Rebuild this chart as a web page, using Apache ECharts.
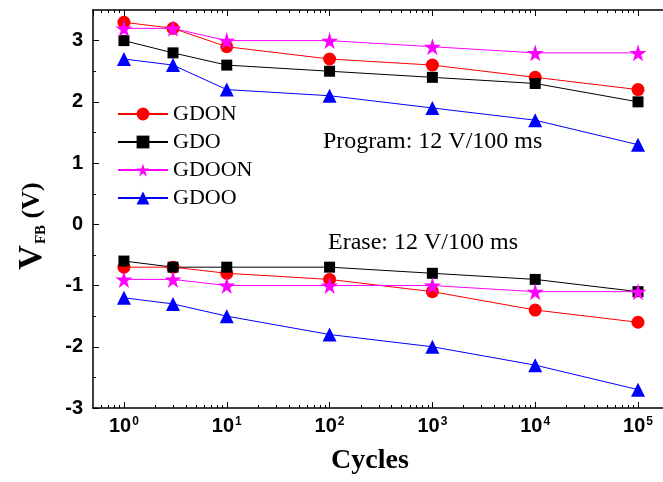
<!DOCTYPE html>
<html>
<head>
<meta charset="utf-8" />
<style>
  html, body { margin: 0; padding: 0; background: #fff; }
  #main { width: 663px; height: 482px; }
</style>
</head>
<body>
<div id="main"></div>
<script src="https://cdn.jsdelivr.net/npm/echarts@6/dist/echarts.min.js"></script>
<script>
// cycles (x, log scale)
var cycles = [1, 3, 10, 100, 1000, 10000, 100000];

// program state V_FB (V)
var gdonProgram  = [3.3, 3.2, 2.9, 2.7, 2.6, 2.4, 2.2];
var gdoProgram   = [3.0, 2.8, 2.6, 2.5, 2.4, 2.3, 2.0];
var gdoonProgram = [3.2, 3.2, 3.0, 3.0, 2.9, 2.8, 2.8];
var gdooProgram  = [2.7, 2.6, 2.2, 2.1, 1.9, 1.7, 1.3];

// erase state V_FB (V)
var gdonErase  = [-0.7, -0.7, -0.8, -0.9, -1.1, -1.4, -1.6];
var gdoErase   = [-0.6, -0.7, -0.7, -0.7, -0.8, -0.9, -1.1];
var gdoonErase = [-0.9, -0.9, -1.0, -1.0, -1.0, -1.1, -1.1];
var gdooErase  = [-1.2, -1.3, -1.5, -1.8, -2.0, -2.3, -2.7];

var seriesNames = ['GDON', 'GDO', 'GDOON', 'GDOO'];
var yMinorTicks = [-2.5, -1.5, -0.5, 0.5, 1.5, 2.5];
var xMinorMantissas = [2, 3, 4, 5, 6, 7, 8, 9];
var xMinorDecades = [1, 10, 100, 1000, 10000];
var xMinorBelowOne = [0.6, 0.7, 0.8, 0.9];

var xMinorTicks = xMinorBelowOne.slice();
xMinorDecades.forEach(function (d) {
  xMinorMantissas.forEach(function (m) { xMinorTicks.push(m * d); });
});

var SERIF = 'Liberation Serif, Times New Roman, serif';
var SANS = 'Liberation Sans, Arial, sans-serif';
var STAR = 'path://M50,0 L61,35 L98,35 L68,57 L79,91 L50,70 L21,91 L32,57 L2,35 L39,35 Z';

var styles = {
  GDON:  { color: '#ff0000', symbol: 'circle', size: 13 },
  GDO:   { color: '#000000', symbol: 'rect', size: 11 },
  GDOON: { color: '#ff00ff', symbol: STAR, size: 17 },
  GDOO:  { color: '#0000ff', symbol: 'triangle', size: 14 }
};
var values = {
  GDON:  [gdonProgram, gdonErase],
  GDO:   [gdoProgram, gdoErase],
  GDOON: [gdoonProgram, gdoonErase],
  GDOO:  [gdooProgram, gdooErase]
};

function pairs(ys) {
  return cycles.map(function (c, i) { return [c, ys[i]]; });
}

var series = [];
seriesNames.forEach(function (name) {
  var s = styles[name];
  values[name].forEach(function (ys) {
    series.push({
      name: name,
      type: 'line',
      data: pairs(ys),
      symbol: s.symbol,
      symbolSize: s.size,
      showAllSymbol: true,
      lineStyle: { color: s.color, width: 1 },
      itemStyle: { color: s.color },
      emphasis: { disabled: true }
    });
  });
});

// minor ticks on the x axis (bottom + top)
series.push({
  type: 'custom',
  silent: true,
  z: 5,
  data: xMinorTicks.map(function (v) { return [v, 0]; }),
  renderItem: function (params, api) {
    var p = api.coord([api.value(0), 0]);
    var cs = params.coordSys;
    var x = Math.round(p[0]) + 0.5;
    var b = cs.y + cs.height;
    return {
      type: 'group',
      children: [
        { type: 'line', shape: { x1: x, y1: b, x2: x, y2: b - 3 }, style: { stroke: '#000', lineWidth: 1 } },
        { type: 'line', shape: { x1: x, y1: cs.y, x2: x, y2: cs.y + 3 }, style: { stroke: '#000', lineWidth: 1 } }
      ]
    };
  }
});

// minor ticks on the y axis
series.push({
  type: 'custom',
  silent: true,
  z: 5,
  data: yMinorTicks.map(function (v) { return [1, v]; }),
  renderItem: function (params, api) {
    var p = api.coord([1, api.value(1)]);
    var cs = params.coordSys;
    var y = Math.round(p[1]) + 0.5;
    return {
      type: 'line',
      shape: { x1: cs.x, y1: y, x2: cs.x + 3, y2: y },
      style: { stroke: '#000', lineWidth: 1 }
    };
  }
});

function powerLabel(v) {
  var e = Math.log10(v);
  if (Math.abs(e - Math.round(e)) > 1e-6) return '';
  return '{b|10}{s|' + Math.round(e) + '}';
}

var chart = echarts.init(document.getElementById('main'));
chart.setOption({
  animation: false,
  backgroundColor: '#fff',
  grid: { left: 92, right: 0, top: 10, bottom: 74 },
  legend: {
    data: seriesNames,
    orient: 'vertical',
    left: 112,
    top: 98,
    itemWidth: 50,
    itemHeight: 16,
    itemGap: 6,
    textStyle: { fontFamily: SERIF, fontSize: 22, color: '#000' }
  },
  xAxis: [
    {
      type: 'log',
      logBase: 10,
      min: 0.5,
      max: 175000,
      name: 'Cycles',
      nameLocation: 'middle',
      nameGap: 39,
      nameTextStyle: { fontFamily: SERIF, fontSize: 28, fontWeight: 'bold', color: '#000', padding: [0, 16, 0, 0] },
      axisLine: { onZero: false, lineStyle: { color: '#000', width: 1.5 } },
      axisTick: { inside: true, length: 6, lineStyle: { color: '#000' } },
      splitLine: { show: false },
      axisLabel: {
        margin: 8,
        showMinLabel: false,
        showMaxLabel: false,
        formatter: powerLabel,
        rich: {
          b: { fontFamily: SANS, fontSize: 20, fontWeight: 'bold', color: '#000' },
          s: { fontFamily: SANS, fontSize: 12, fontWeight: 'bold', color: '#000', verticalAlign: 'top', padding: [0, 0, 8, 1] }
        }
      }
    },
    {
      type: 'log',
      logBase: 10,
      min: 0.5,
      max: 175000,
      position: 'top',
      axisLine: { onZero: false, lineStyle: { color: '#000', width: 1.5 } },
      axisTick: { inside: true, length: 6, lineStyle: { color: '#000' } },
      axisLabel: { show: false },
      splitLine: { show: false }
    }
  ],
  yAxis: {
    type: 'value',
    min: -3,
    max: 3.5,
    interval: 1,
    name: '{v|V}{s|FB}{p| (V)}',
    nameLocation: 'middle',
    nameRotate: 90,
    nameGap: 44,
    nameTextStyle: {
      padding: [0, 34, 0, 0],
      rich: {
        v: { fontFamily: SERIF, fontSize: 34, fontWeight: 'bold', color: '#000', verticalAlign: 'top', lineHeight: 34 },
        s: { fontFamily: SERIF, fontSize: 15, fontWeight: 'bold', color: '#000', verticalAlign: 'bottom', lineHeight: 15, padding: [26, 0, 0, 1] },
        p: { fontFamily: SERIF, fontSize: 26, fontWeight: 'bold', color: '#000', verticalAlign: 'top', lineHeight: 34, padding: [4, 0, 0, 0] }
      }
    },
    axisLine: { show: true, onZero: false, lineStyle: { color: '#000', width: 1.5 } },
    axisTick: { inside: true, length: 6, lineStyle: { color: '#000' } },
    splitLine: { show: false },
    axisLabel: {
      margin: 10,
      showMaxLabel: false,
      fontFamily: SANS,
      fontSize: 20,
      fontWeight: 'bold',
      color: '#000'
    }
  },
  graphic: [
    {
      type: 'text',
      left: 323,
      top: 130,
      style: { text: 'Program: 12 V/100 ms', fontFamily: SERIF, fontSize: 24, fill: '#000' }
    },
    {
      type: 'text',
      left: 328,
      top: 231,
      style: { text: 'Erase: 12 V/100 ms', fontFamily: SERIF, fontSize: 24, fill: '#000' }
    }
  ],
  series: series
});
</script>
</body>
</html>
